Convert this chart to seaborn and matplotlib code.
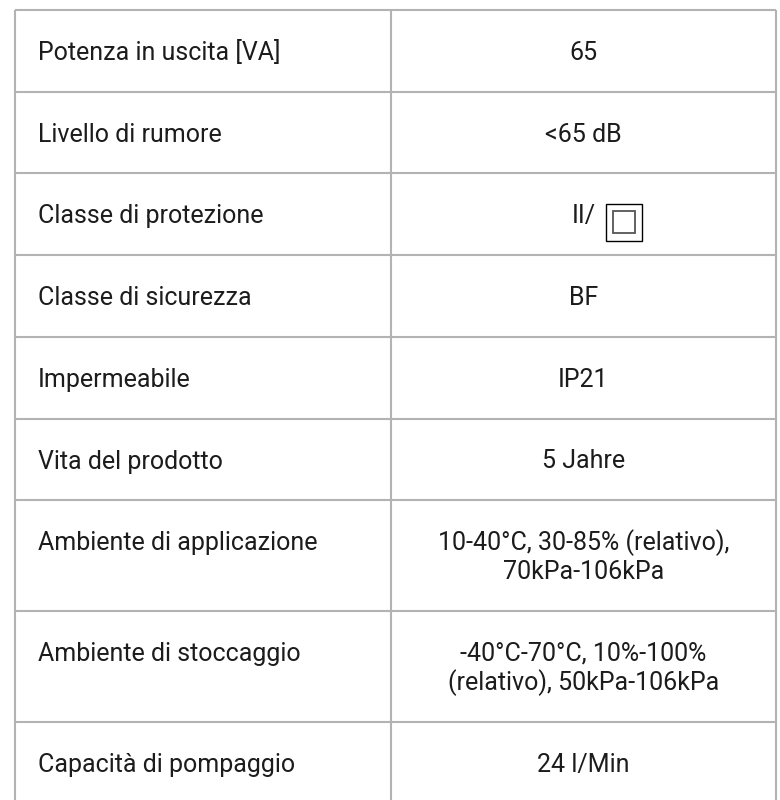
import numpy as np
import seaborn as sns
import matplotlib.pyplot as plt
from matplotlib.patches import Rectangle

# table content
labels = ['Potenza in uscita [VA]', 'Livello di rumore', 'Classe di protezione',
          'Classe di sicurezza', 'Impermeabile', 'Vita del prodotto',
          'Ambiente di applicazione', 'Ambiente di stoccaggio', 'Capacità di pompaggio']
values = ['65', '<65 dB', 'II/', 'BF', 'IP21', '5 Jahre',
          '10-40°C, 30-85% (relativo),\n70kPa-106kPa',
          '-40°C-70°C, 10%-100%\n(relativo), 50kPa-106kPa',
          '24 l/Min']
symbol_row = 'Classe di protezione'  # row with the double-insulation square

sns.set_theme(style='white')
plt.rcParams['font.family'] = ['Roboto', 'DejaVu Sans']

fig = plt.figure(figsize=(7.8, 8.0), dpi=100)
ax = fig.add_axes([0, 0, 1, 1])
ax.set_xlim(0, 780)
ax.set_ylim(800, 0)
ax.axis('off')

left, mid, right, top = 15, 391, 776, 10
line_col = '#b3b3b3'
text_col = '#1c1c1c'
fs = 18
line_h = 29.0   # px between text lines
pad = 50.0      # row top -> first baseline

n_lines = np.array([v.count('\n') + 1 for v in values])
heights = 52.7 + line_h * n_lines
edges = top + np.concatenate([[0], np.cumsum(heights)])

ax.hlines(edges, left, right, color=line_col, lw=1.5)
ax.vlines([left, mid, right], edges[0], edges[-1], color=line_col, lw=1.5)

cx = (mid + right) / 2
for lab, val, y0 in zip(labels, values, edges[:-1]):
    base = y0 + pad
    ax.text(left + 23, base, lab, ha='left', va='baseline', fontsize=fs, color=text_col)
    for i, part in enumerate(val.split('\n')):
        ax.text(cx, base + i * line_h, part, ha='center', va='baseline',
                fontsize=fs, color=text_col)
    if lab == symbol_row:
        ax.add_patch(Rectangle((cx + 22, base - 19), 36, 37, fill=False,
                               ec='black', lw=1.0))
        ax.add_patch(Rectangle((cx + 29, base - 12), 22, 22, fill=False,
                               ec='#555555', lw=1.3))

fig.savefig('out.png', dpi=100)
